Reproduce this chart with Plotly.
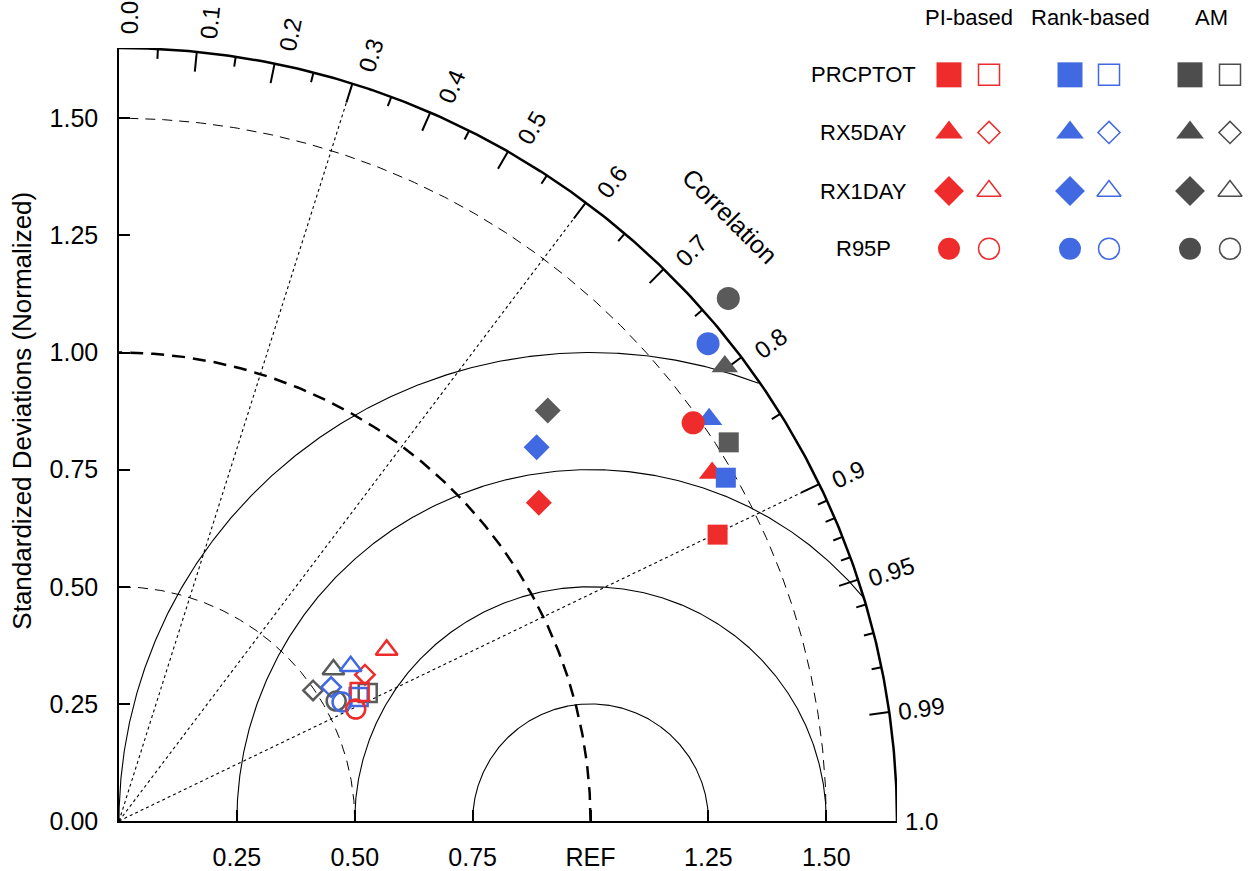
import numpy as np
import plotly.graph_objects as go

# ---- data: normalized standard deviation and correlation per index ----
variables = ["PRCPTOT", "RX5DAY", "RX1DAY", "R95P"]
methods = ["PI-based", "Rank-based", "AM"]

# filled markers
pi_std = [1.409, 1.461, 1.120, 1.485]
pi_cor = [0.901, 0.861, 0.795, 0.820]
rank_std = [1.481, 1.517, 1.192, 1.612]
rank_cor = [0.869, 0.825, 0.743, 0.775]
am_std = [1.525, 1.610, 1.263, 1.707]
am_cor = [0.848, 0.798, 0.720, 0.757]

# open markers
pi_open_std = [0.580, 0.608, 0.675, 0.556]
pi_open_cor = [0.880, 0.858, 0.841, 0.903]
rank_open_std = [0.573, 0.533, 0.592, 0.537]
rank_open_cor = [0.887, 0.844, 0.830, 0.881]
am_open_std = [0.594, 0.497, 0.558, 0.527]
am_open_cor = [0.888, 0.828, 0.815, 0.874]

std_ticks = [0.0, 0.25, 0.50, 0.75, 1.0, 1.25, 1.50]
x_tick_text = ["0.25", "0.50", "0.75", "REF", "1.25", "1.50"]
cor_major = [0.1, 0.2, 0.3, 0.4, 0.5, 0.6, 0.7, 0.8, 0.9, 0.95, 0.99]
cor_minor = [0.05, 0.15, 0.25, 0.35, 0.45, 0.55, 0.65, 0.75, 0.85,
             0.91, 0.92, 0.93, 0.94, 0.96, 0.97, 0.98]
cor_labels = [0.0, 0.1, 0.2, 0.3, 0.4, 0.5, 0.6, 0.7, 0.8, 0.9, 0.95, 0.99, 1.0]
cor_label_text = ["0.0", "0.1", "0.2", "0.3", "0.4", "0.5", "0.6", "0.7",
                  "0.8", "0.9", "0.95", "0.99", "1.0"]

# ---- styling ----
FONT = "Liberation Sans, Arial, Helvetica, sans-serif"
R_MAX = 1.65
W, H = 1256, 871
ML, MR, MT, MB = 119, 0, 48, 45
PLOT_PX = H - MT - MB                     # 778 px for R_MAX
PAPER_W = W - ML - MR
PX = PLOT_PX / R_MAX                      # pixels per data unit
XDOM = PLOT_PX / PAPER_W

col_plot = {"PI-based": "#EE2C2C", "Rank-based": "#4169E1", "AM": "#5A5A5A"}
col_leg = {"PI-based": "#EE2C2C", "Rank-based": "#4169E1", "AM": "#4D4D4D"}
sym_fill = {"PRCPTOT": "square", "RX5DAY": "triangle-up",
            "RX1DAY": "diamond", "R95P": "circle"}
sym_open = {"PRCPTOT": "square-open", "RX5DAY": "diamond-open",
            "RX1DAY": "triangle-up-open", "R95P": "circle-open"}
size_fill = {"PRCPTOT": 20, "RX5DAY": 23, "RX1DAY": 20, "R95P": 23}
size_open = {"PRCPTOT": 18, "RX5DAY": 15, "RX1DAY": 19, "R95P": 19}
leg_fill = {"PRCPTOT": 25, "RX5DAY": 24, "RX1DAY": 23, "R95P": 22}
leg_open = {"PRCPTOT": 21, "RX5DAY": 17, "RX1DAY": 21, "R95P": 21}

fig = go.Figure()


def polar_xy(r, c):
    r = np.asarray(r, float)
    c = np.asarray(c, float)
    return r * c, r * np.sqrt(1 - c ** 2)


def to_paper(x, y):
    return x * PX / PAPER_W, y / R_MAX


def px_to_paper(px, py):
    return (px - ML) / PAPER_W, (H - MB - py) / PLOT_PX


def add_line(x, y, width=1.0, dash="solid", color="black"):
    fig.add_trace(go.Scatter(x=x, y=y, mode="lines", hoverinfo="skip",
                             showlegend=False,
                             line=dict(color=color, width=width, dash=dash)))


# standard-deviation arcs around the origin
th = np.linspace(0, np.pi / 2, 300)
for r, w, d in [(0.5, 1.0, "10px,7px"), (1.5, 1.0, "10px,7px"),
                (1.0, 2.5, "13px,8px")]:
    add_line(r * np.cos(th), r * np.sin(th), w, d)

# centred RMS difference arcs around REF, kept inside the outer arc
for rr in [0.25, 0.5, 0.75, 1.0]:
    ph = np.linspace(0, np.pi, 600)
    x = 1.0 + rr * np.cos(ph)
    y = rr * np.sin(ph)
    keep = x ** 2 + y ** 2 <= R_MAX ** 2 + 1e-9
    add_line(x[keep], y[keep], 1.1)

# correlation rays
rx, ry = [], []
for c in [0.3, 0.6, 0.9]:
    px_, py_ = polar_xy([0, R_MAX], [c, c])
    rx += list(px_) + [None]
    ry += list(py_) + [None]
add_line(rx, ry, 1.1, "3px,3px")

# outer arc
add_line(R_MAX * np.cos(th), R_MAX * np.sin(th), 2.5)

# correlation ticks pointing inward
tx, ty = [], []
for cs, ln in [(cor_major, 20), (cor_minor, 10)]:
    for c in cs:
        px_, py_ = polar_xy([R_MAX, R_MAX - ln / PX], [c, c])
        tx += list(px_) + [None]
        ty += list(py_) + [None]
add_line(tx, ty, 2.0)

# statistics markers, drawn index by index so later indices sit on top
stats_fill = {"PI-based": (pi_std, pi_cor), "Rank-based": (rank_std, rank_cor),
              "AM": (am_std, am_cor)}
stats_open = {"PI-based": (pi_open_std, pi_open_cor),
              "Rank-based": (rank_open_std, rank_open_cor),
              "AM": (am_open_std, am_open_cor)}
for var in ["RX5DAY", "RX1DAY", "PRCPTOT", "R95P"]:
    i = variables.index(var)
    for m in ["AM", "Rank-based", "PI-based"]:
        s, c = stats_open[m]
        x, y = polar_xy([s[i]], [c[i]])
        fig.add_trace(go.Scatter(
            x=x, y=y, mode="markers", showlegend=False, cliponaxis=False,
            name=f"{m} {var}",
            marker=dict(symbol=sym_open[var], size=size_open[var],
                        color=col_plot[m], line=dict(width=2.5, color=col_plot[m]))))
    for m in ["AM", "Rank-based", "PI-based"]:
        s, c = stats_fill[m]
        x, y = polar_xy([s[i]], [c[i]])
        fig.add_trace(go.Scatter(
            x=x, y=y, mode="markers", showlegend=False, cliponaxis=False,
            name=f"{m} {var}",
            marker=dict(symbol=sym_fill[var], size=size_fill[var],
                        color=col_plot[m], line=dict(width=0))))

# ---- key table (pixel-based helper axes) ----
leg_cols = {"PI-based": (949, 989), "Rank-based": (1070, 1109), "AM": (1190, 1230)}
leg_head_x = {"PI-based": 969, "Rank-based": 1090, "AM": 1211}
leg_rows = {"PRCPTOT": 75, "RX5DAY": 133, "RX1DAY": 192, "R95P": 250}
for m in methods:
    xf, xo = leg_cols[m]
    for var in variables:
        yy = leg_rows[var]
        fig.add_trace(go.Scatter(
            x=[xf], y=[yy], xaxis="x2", yaxis="y2", mode="markers",
            showlegend=False, hoverinfo="skip", cliponaxis=False,
            marker=dict(symbol=sym_fill[var], size=leg_fill[var], color=col_leg[m])))
        fig.add_trace(go.Scatter(
            x=[xo], y=[yy], xaxis="x2", yaxis="y2", mode="markers",
            showlegend=False, hoverinfo="skip", cliponaxis=False,
            marker=dict(symbol=sym_open[var], size=leg_open[var], color=col_leg[m],
                        line=dict(width=1.5, color=col_leg[m]))))


def text_ann(px, py, text, size, angle=0, xshift=0, yshift=0, paper_xy=None):
    if paper_xy is None:
        ax_, ay_ = px_to_paper(px, py)
    else:
        ax_, ay_ = paper_xy
    return dict(x=ax_, y=ay_, xref="paper", yref="paper", text=text,
                showarrow=False, textangle=angle, xanchor="center",
                yanchor="middle", xshift=xshift, yshift=yshift,
                font=dict(size=size, family=FONT, color="black"))


annotations = []
for m in methods:
    annotations.append(text_ann(leg_head_x[m], 17, m, 22))
for var in variables:
    annotations.append(text_ann(863, leg_rows[var], var, 22))

# correlation labels around the outer arc
for c, t in zip(cor_labels, cor_label_text):
    ang = np.arccos(c)
    r_px = 792 + 16 * np.sin(ang) + 6 * (len(t) - 3)
    rl = r_px / PX
    annotations.append(text_ann(0, 0, t, 24, angle=-np.degrees(ang), xshift=10,
                                paper_xy=to_paper(rl * np.cos(ang), rl * np.sin(ang))))
annotations.append(text_ann(730, 217, "Correlation", 25, angle=45))
annotations.append(text_ann(22, 413, "Standardized Deviations (Normalized)", 26, angle=-90))

axis_common = dict(showgrid=False, zeroline=False, showline=True, linecolor="black",
                   linewidth=1.5, ticks="inside", ticklen=11, tickwidth=1.5,
                   tickcolor="black", tickfont=dict(size=25, family=FONT, color="black"))

fig.update_layout(
    width=W, height=H, margin=dict(l=ML, r=MR, t=MT, b=MB),
    paper_bgcolor="white", plot_bgcolor="rgba(0,0,0,0)",
    xaxis=dict(domain=[0, XDOM], range=[0, R_MAX], tickvals=std_ticks[1:],
               ticktext=x_tick_text, ticklabelstandoff=13, **axis_common),
    yaxis=dict(domain=[0, 1], range=[0, R_MAX], tickvals=std_ticks,
               tickformat=".2f", ticklabelstandoff=14, **axis_common),
    xaxis2=dict(domain=[(900 - ML) / PAPER_W, 1], range=[900, W], visible=False,
                anchor="y2"),
    yaxis2=dict(domain=[(H - MB - 280) / PLOT_PX, 1], range=[280, MT], visible=False,
                anchor="x2"),
    annotations=annotations,
    font=dict(family=FONT, color="black"),
)

fig.write_html("out.html")
